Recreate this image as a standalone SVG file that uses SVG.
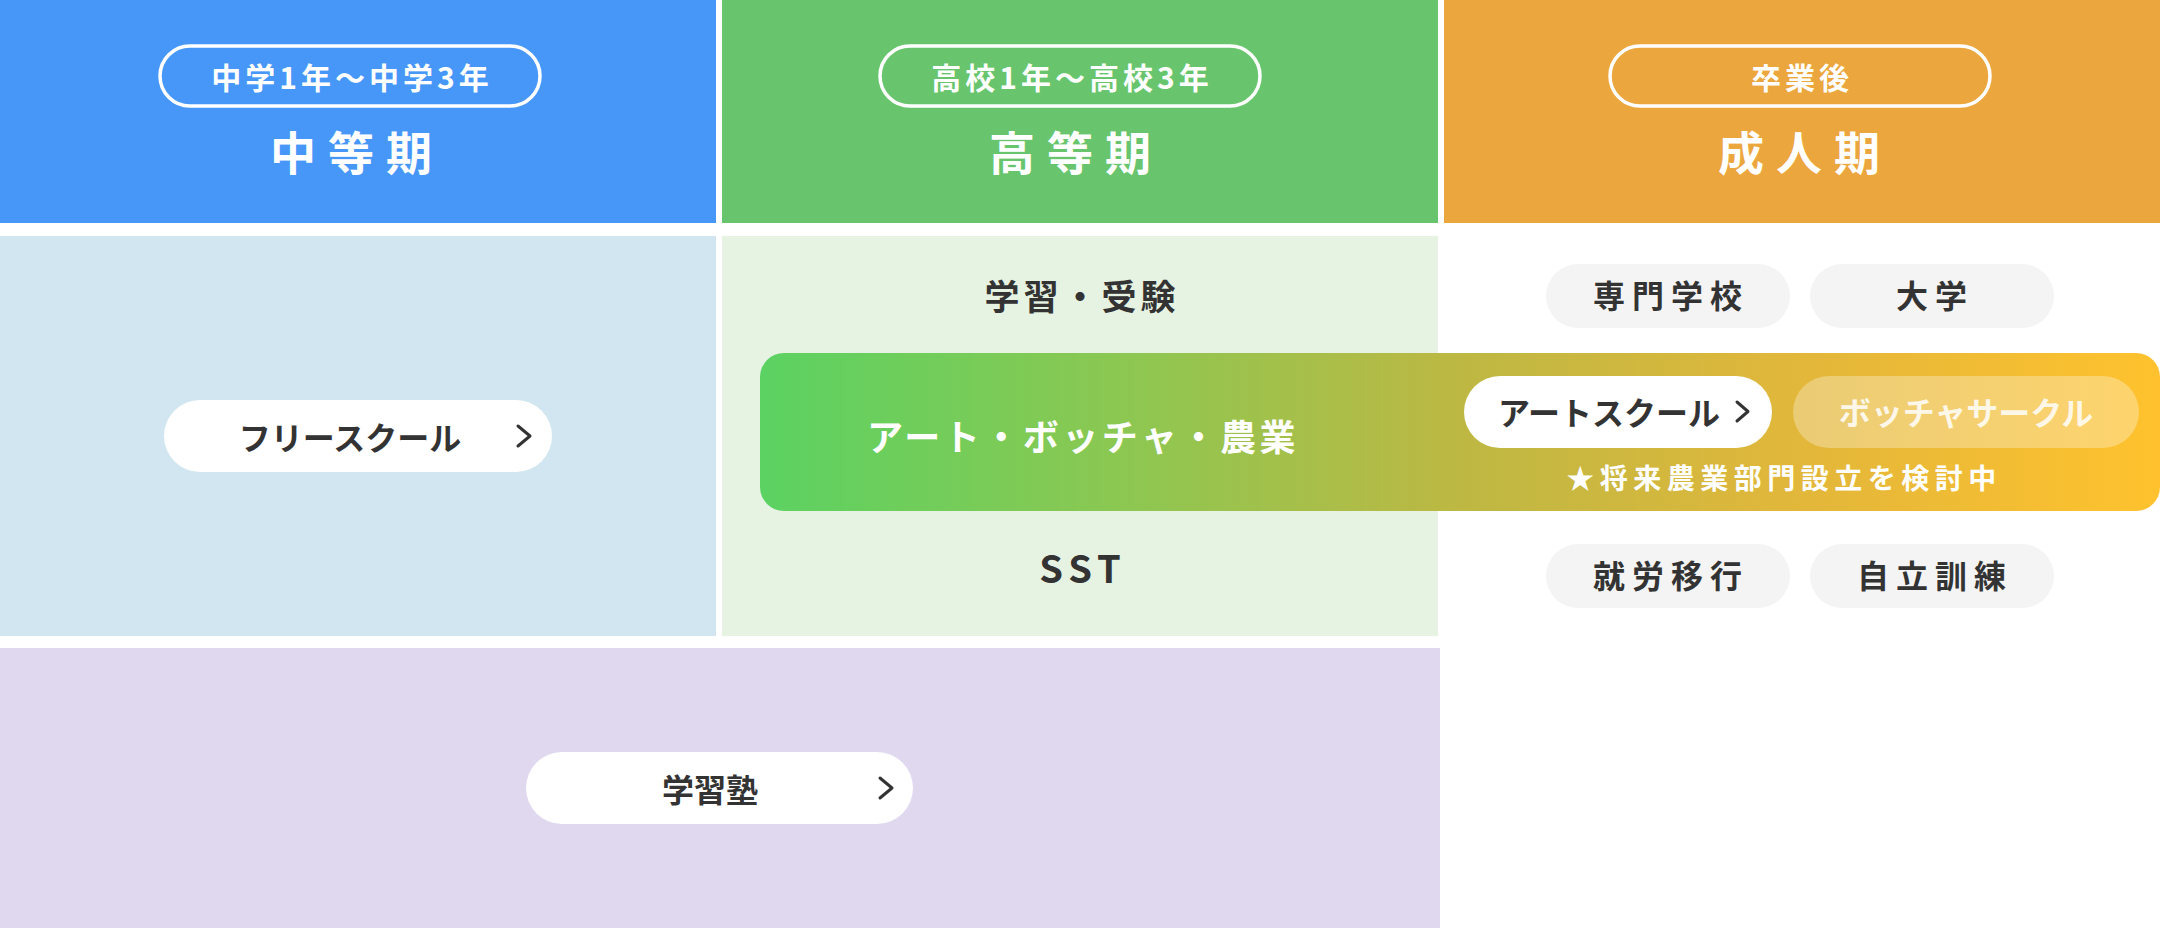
<svg xmlns="http://www.w3.org/2000/svg" width="2160" height="928" viewBox="0 0 2160 928">
<defs>
<linearGradient id="barGrad" x1="760" y1="0" x2="2160" y2="0" gradientUnits="userSpaceOnUse">
<stop offset="0" stop-color="#5BD262"/>
<stop offset="0.25" stop-color="#8AC852"/>
<stop offset="0.5" stop-color="#BDB843"/>
<stop offset="0.75" stop-color="#E3B73A"/>
<stop offset="1" stop-color="#FFC22E"/>
</linearGradient>
</defs>
<style>
text{font-family:"Noto Sans CJK JP","Noto Sans",sans-serif;font-weight:700;text-anchor:middle}
.hp{fill:none;stroke:#fff;stroke-width:3.5}
.hpt{fill:#fff;font-size:30px;letter-spacing:4px}
.ht{fill:#fff;font-size:46px;letter-spacing:12px}
.dk{fill:#333}
.btn{fill:#fff}
.bt{font-size:32px}
.gp{fill:#F4F4F4}
.gt{fill:#333;font-size:32px;letter-spacing:7px}
.chev{fill:none;stroke:#333;stroke-width:3;stroke-linecap:round;stroke-linejoin:round}
</style>
<rect width="2160" height="928" fill="#fff"/>
<g id="header-middle">
<rect x="0" y="0" width="716" height="223" fill="#4797F9"/>
<rect class="hp" x="160" y="46" width="380" height="60" rx="30"/>
<text class="hpt" x="352" y="89">中学1年～中学3年</text>
<text class="ht" x="357" y="170">中等期</text>
</g>
<g id="header-high">
<rect x="722" y="0" width="716" height="223" fill="#68C56D"/>
<rect class="hp" x="880" y="46" width="380" height="60" rx="30"/>
<text class="hpt" x="1072" y="89">高校1年～高校3年</text>
<text class="ht" x="1076" y="170">高等期</text>
</g>
<g id="header-adult">
<rect x="1444" y="0" width="716" height="223" fill="#ECA63E"/>
<rect class="hp" x="1610" y="46" width="380" height="60" rx="30"/>
<text class="hpt" x="1802" y="89">卒業後</text>
<text class="ht" x="1805" y="170">成人期</text>
</g>
<g id="cell-middle">
<rect x="0" y="236" width="716" height="400" fill="#D1E6F1"/>
</g>
<g id="cell-high">
<rect x="722" y="236" width="716" height="400" fill="#E6F2E2"/>
<text class="dk" x="1082" y="310" font-size="35" letter-spacing="4">学習・受験</text>
<text class="dk" x="1083" y="583" font-size="38" letter-spacing="6">SST</text>
</g>
<g id="cell-juku">
<rect x="0" y="648" width="1440" height="280" fill="#DFD8EF"/>
</g>
<g id="free-school">
<rect class="btn" x="164" y="400" width="388" height="72" rx="36"/>
<text class="dk bt" x="350" y="450">フリースクール</text>
<path class="chev" d="M518 426 L530 436 L518 446"/>
</g>
<g id="juku">
<rect class="btn" x="526" y="752" width="387" height="72" rx="36"/>
<text class="dk bt" x="710" y="802">学習塾</text>
<path class="chev" d="M880 778 L892 788 L880 798"/>
</g>
<g id="senmon">
<rect class="gp" x="1546" y="264" width="244" height="64" rx="32"/>
<text class="gt" x="1671" y="308">専門学校</text>
</g>
<g id="daigaku">
<rect class="gp" x="1810" y="264" width="244" height="64" rx="32"/>
<text class="gt" x="1935" y="308">大学</text>
</g>
<g id="shuro">
<rect class="gp" x="1546" y="544" width="244" height="64" rx="32"/>
<text class="gt" x="1671" y="588">就労移行</text>
</g>
<g id="jiritsu">
<rect class="gp" x="1810" y="544" width="244" height="64" rx="32"/>
<text class="gt" x="1935" y="588">自立訓練</text>
</g>
<g id="art-bar">
<rect x="760" y="353" width="1400" height="158" rx="24" fill="url(#barGrad)"/>
<text x="1083" y="451" fill="#fff" font-size="36" letter-spacing="3.5">アート・ボッチャ・農業</text>
<text x="1784" y="489" fill="#fff" font-size="28" letter-spacing="5.5">★将来農業部門設立を検討中</text>
</g>
<g id="art-school">
<rect class="btn" x="1464" y="376" width="308" height="72" rx="36"/>
<text class="dk bt" x="1609" y="425">アートスクール</text>
<path class="chev" d="M1737 402 L1748 411.5 L1737 421"/>
</g>
<g id="boccia-circle">
<rect x="1793" y="376" width="346" height="72" rx="36" fill="#fff" fill-opacity="0.3"/>
<text class="bt" x="1966" y="425" fill="#fff" fill-opacity="0.85">ボッチャサークル</text>
</g>
</svg>
